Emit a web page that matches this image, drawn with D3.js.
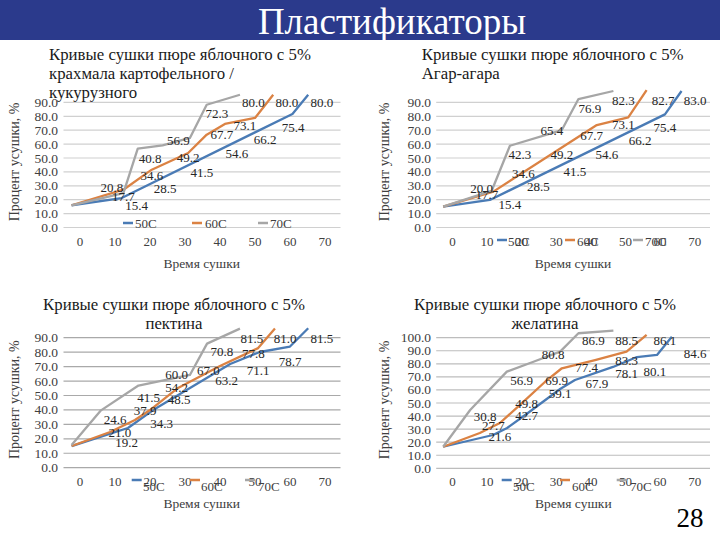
<!DOCTYPE html>
<html><head><meta charset="utf-8">
<script src="https://cdn.jsdelivr.net/npm/d3@7"></script>
<style>
body{margin:0;background:#fff}
svg{display:block}
text{font-family:"Liberation Serif","Times New Roman",serif}
</style>
</head><body><svg id="s" width="720" height="540"></svg>
<script>
// ---------- data ----------
const slideTitle = "Пластификаторы";
const pageNumber = "28";
const xCategories = [0, 10, 20, 30, 40, 50, 60, 70];
const yTicks90 = [0, 10, 20, 30, 40, 50, 60, 70, 80, 90];
const yTicks100 = [0, 10, 20, 30, 40, 50, 60, 70, 80, 90, 100];
const seriesNames = ["50C", "60C", "70C"];
const yAxisTitle = "Процент усушки, %";
const xAxisTitle = "Время сушки";

const titleStarch = ["Кривые сушки пюре яблочного с 5%", "крахмала картофельного /", "кукурузного"];
const titleAgar = ["Кривые сушки пюре яблочного с 5%", "Агар-агара"];
const titlePectin = ["Кривые сушки пюре яблочного с 5%", "пектина"];
const titleGelatin = ["Кривые сушки пюре яблочного с 5%", "желатина"];

// line vertices as drawn in the picture: [time, percent]
const starch50 = [[-2.4,16.0],[11.9,21.2],[60.7,81.7],[65.2,95.5]];
const starch60 = [[-2.4,16.0],[12.4,27.2],[20.5,41.6],[30.9,53.6],[36.2,66.8],[41.4,74.5],[50.0,78.8],[55.2,95.5]];
const starch70 = [[-2.4,16.0],[12.4,24.8],[16.5,56.7],[23.6,59.1],[31.4,64.4],[36.2,88.3],[45.7,95.5]];
const agar50 = [[-2.7,15.0],[10.8,19.8],[61.4,81.4],[66.2,98.2]];
const agar60 = [[-2.7,15.0],[11.8,25.8],[41.7,73.7],[50.8,79.3],[56.1,98.9]];
const agar70 = [[-2.7,15.0],[11.3,26.3],[16.6,58.8],[31.6,70.1],[36.4,92.4],[46.5,98.2]];
const pectin50 = [[-2.4,15.0],[9.1,24.0],[13.7,27.5],[20.9,39.9],[42.9,71.8],[51.4,80.1],[60.0,83.9],[65.2,96.5]];
const pectin60 = [[-2.4,15.0],[8.6,24.7],[15.7,33.0],[20.0,39.9],[28.0,55.2],[40.0,70.4],[50.9,82.8],[55.7,96.3]];
const pectin70 = [[-2.4,15.7],[6.0,39.7],[16.7,56.9],[31.4,64.2],[36.3,85.9],[45.7,96.3]];
const gelatin50 = [[-2.7,16.5],[11.7,25.5],[15.8,30.9],[21.8,42.3],[31.1,60.7],[35.4,67.6],[46.4,77.6],[53.3,85.2],[59.1,86.8],[63.4,100.8]];
const gelatin60 = [[-2.7,16.5],[7.9,27.0],[13.7,34.7],[19.5,48.5],[26.7,66.1],[31.6,76.6],[41.2,82.9],[50.3,89.3],[56.1,102.1]];
const gelatin70 = [[-2.7,16.5],[5.1,44.6],[15.7,74.0],[23.4,81.6],[31.1,89.3],[36.4,103.4],[46.5,105.4]];

// data labels: [time, percent position, value]
const starchLab50 = [[16.2,16.0,"15.4"],[24.3,27.7,"28.5"],[34.8,39.7,"41.5"],[44.8,53.1,"54.6"],[52.9,63.2,"66.2"],[60.9,72.1,"75.4"],[69.1,89.6,"80.0"]];
const starchLab60 = [[12.4,22.4,"17.7"],[20.5,37.3,"34.6"],[30.9,50.5,"49.2"],[40.5,66.8,"67.7"],[47.1,73.5,"73.1"],[59.1,89.6,"80.0"]];
const starchLab70 = [[9.1,29.1,"20.8"],[20.0,49.5,"40.8"],[28.1,62.7,"56.9"],[39.1,81.7,"72.3"],[49.5,89.6,"80.0"]];
const agarLab50 = [[16.6,16.9,"15.4"],[24.8,29.4,"28.5"],[35.4,40.1,"41.5"],[44.6,52.2,"54.6"],[54.2,62.9,"66.2"],[61.4,71.8,"75.4"],[70.1,91.7,"83.0"]];
const agarLab60 = [[9.9,23.4,"17.7"],[20.5,39.0,"34.6"],[31.6,52.2,"49.2"],[40.2,66.5,"67.7"],[49.4,74.2,"73.1"],[60.9,91.7,"82.7"]];
const agarLab70 = [[8.4,27.7,"20.0"],[19.5,52.2,"42.3"],[28.7,70.1,"65.4"],[39.7,85.8,"76.9"],[49.4,91.7,"82.3"]];
const pectinLab50 = [[13.3,17.6,"19.2"],[23.3,30.7,"34.3"],[28.3,46.9,"48.5"],[41.9,60.2,"63.2"],[50.9,67.6,"71.1"],[60.0,73.4,"78.7"],[69.1,89.6,"81.5"]];
const pectinLab60 = [[11.4,24.2,"21.0"],[18.6,39.9,"37.9"],[27.6,55.6,"54.2"],[36.7,67.6,"67.0"],[49.5,79.2,"77.8"],[58.6,89.6,"81.0"]];
const pectinLab70 = [[10.0,33.5,"24.6"],[19.6,48.7,"41.5"],[27.6,64.2,"60.0"],[40.5,80.3,"70.8"],[49.1,89.6,"81.5"]];
const gelatinLab50 = [[13.7,24.2,"21.6"],[21.4,40.8,"42.7"],[31.1,57.4,"59.1"],[41.7,65.1,"67.9"],[50.3,72.7,"78.1"],[58.5,74.0,"80.1"],[70.1,88.1,"84.6"]];
const gelatinLab60 = [[11.8,32.4,"27.7"],[21.4,49.8,"49.8"],[30.1,67.6,"69.9"],[38.8,77.3,"77.4"],[50.3,82.9,"83.3"],[61.4,98.2,"86.1"]];
const gelatinLab70 = [[9.4,40.0,"30.8"],[20.0,67.6,"56.9"],[29.1,86.8,"80.8"],[40.7,98.2,"86.9"],[50.3,98.2,"88.5"]];

// ---------- layout / style ----------
const colors = ["#4a7bb5", "#db8243", "#a6a6a6"];
const charts = [
  {title: titleStarch, titleX: 49, titleY: 60, titleAnchor: "start",
   lines: [starch50, starch60, starch70], labels: [starchLab50, starchLab60, starchLab70],
   yTicks: yTicks90, xr: [62.5, 342.5], yd: [0, 90], yr: [227.5, 102.4], yLabX: 58, yTitleX: 15,
   xTickY: 246, xTitle: [201.7, 267.5], grid: "#d0d0d0",
   legend: {y: 223, sw: [123, 192, 258], tx: [135, 205, 270], ty: 228}},
  {title: titleAgar, titleX: 421.7, titleY: 60, titleAnchor: "start",
   lines: [agar50, agar60, agar70], labels: [agarLab50, agarLab60, agarLab70],
   yTicks: yTicks90, xr: [435.2, 712], yd: [0, 90], yr: [227.5, 102.4], yLabX: 431, yTitleX: 385,
   xTickY: 246, xTitle: [573, 267.5], grid: "#d0d0d0",
   legend: {y: 240, sw: [497, 565, 633], tx: [508, 577, 645], ty: 246}},
  {title: titlePectin, titleX: 174, titleY: 310, titleAnchor: "middle",
   lines: [pectin50, pectin60, pectin70], labels: [pectinLab50, pectinLab60, pectinLab70],
   yTicks: yTicks90, xr: [62.5, 342.5], yd: [0, 90], yr: [467.7, 337.7], yLabX: 58, yTitleX: 15,
   xTickY: 486, xTitle: [201.7, 507.5], grid: "#a9a9a9",
   legend: {y: 480, sw: [131.7, 190, 245], tx: [143, 201, 258], ty: 491}},
  {title: titleGelatin, titleX: 545, titleY: 310, titleAnchor: "middle",
   lines: [gelatin50, gelatin60, gelatin70], labels: [gelatinLab50, gelatinLab60, gelatinLab70],
   yTicks: yTicks100, xr: [435.2, 712], yd: [0, 100], yr: [468.3, 337.7], yLabX: 431, yTitleX: 385,
   xTickY: 486, xTitle: [573.3, 507.5], grid: "#bdbdbd",
   legend: {y: 480, sw: [501.7, 560, 616.7], tx: [513, 572, 630], ty: 491}}
];

const svg = d3.select("#s");

// header bar
svg.append("rect").attr("x", 0).attr("y", 0).attr("width", 720).attr("height", 40).attr("fill", "#2b3a8c");
svg.append("text").attr("x", 392).attr("y", 34).attr("text-anchor", "middle")
  .attr("font-size", 37).attr("fill", "#fff").text(slideTitle);

charts.forEach(c => {
  const g = svg.append("g");
  const x = d3.scaleLinear().domain([-5, 75]).range(c.xr);
  const y = d3.scaleLinear().domain(c.yd).range(c.yr);

  // gridlines + y tick labels
  g.selectAll("line.grid").data(c.yTicks).join("line")
    .attr("x1", c.xr[0] + 1).attr("x2", c.xr[1] - 2)
    .attr("y1", d => y(d)).attr("y2", d => y(d))
    .attr("stroke", c.grid).attr("stroke-width", 1.2);
  g.selectAll("text.yt").data(c.yTicks).join("text")
    .attr("x", c.yLabX).attr("y", d => y(d) + 4.5).attr("text-anchor", "end")
    .attr("font-size", 13.5).attr("fill", "#404040").text(d => d.toFixed(1));

  // x tick labels
  g.selectAll("text.xt").data(xCategories).join("text")
    .attr("x", d => x(d)).attr("y", c.xTickY).attr("text-anchor", "middle")
    .attr("font-size", 13).attr("fill", "#404040").text(d => d);

  // lines
  const lineGen = d3.line().x(d => x(d[0])).y(d => y(d[1]));
  c.lines.forEach((pts, i) => {
    g.append("path").attr("d", lineGen(pts)).attr("fill", "none")
      .attr("stroke", colors[i]).attr("stroke-width", 2.3).attr("stroke-linejoin", "round");
  });

  // data labels
  c.labels.forEach(lab => {
    g.selectAll(null).data(lab).join("text")
      .attr("x", d => x(d[0])).attr("y", d => y(d[1]) + 4.5).attr("text-anchor", "middle")
      .attr("font-size", 13).attr("fill", "#262626").text(d => d[2]);
  });

  // legend
  seriesNames.forEach((n, i) => {
    g.append("line").attr("x1", c.legend.sw[i]).attr("x2", c.legend.sw[i] + 10)
      .attr("y1", c.legend.y).attr("y2", c.legend.y)
      .attr("stroke", colors[i]).attr("stroke-width", 2.5);
    g.append("text").attr("x", c.legend.tx[i]).attr("y", c.legend.ty)
      .attr("font-size", 13).attr("fill", "#404040").text(n);
  });

  // axis titles
  g.append("text").attr("x", c.xTitle[0]).attr("y", c.xTitle[1]).attr("text-anchor", "middle")
    .attr("font-size", 13.5).attr("fill", "#404040").text(xAxisTitle);
  const ymid = (c.yr[0] + c.yr[1]) / 2 - 3;
  g.append("text").attr("transform", `translate(${c.yTitleX + 4},${ymid}) rotate(-90)`)
    .attr("text-anchor", "middle").attr("font-size", 14).attr("fill", "#404040").text(yAxisTitle);

  // chart title
  c.title.forEach((t, i) => {
    g.append("text").attr("x", c.titleX).attr("y", c.titleY + i * 19)
      .attr("text-anchor", c.titleAnchor).attr("font-size", 16.8).attr("fill", "#1a1a1a").text(t);
  });
});

svg.append("text").attr("x", 690).attr("y", 527).attr("text-anchor", "middle")
  .attr("font-size", 27).attr("fill", "#000").text(pageNumber);
</script></body></html>
